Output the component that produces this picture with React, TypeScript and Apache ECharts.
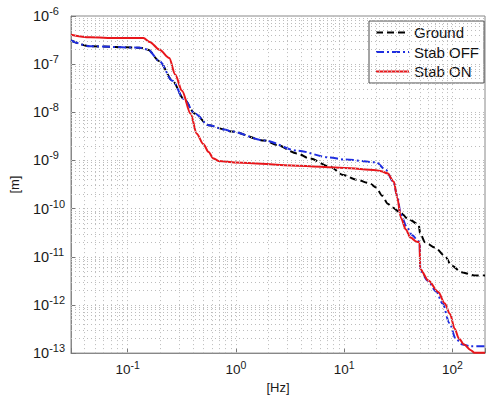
import React, { useEffect, useRef } from "react";
import * as echarts from "echarts";

// Frequencies [Hz] and displacement [m]
const groundF = [0.03, 0.045, 0.13, 0.154, 0.197, 0.26, 0.33, 0.42, 0.56, 0.79, 0.9, 1.84, 2.4, 3.67, 4.8, 7.4, 9.8, 12.9, 17.1, 19.7, 22.5, 25.3, 28, 32.5, 39.5, 48.7, 50.5, 56, 69, 85, 98, 121, 159, 200];
const groundM = [3.1e-7, 2.35e-7, 2.2e-7, 2.0e-7, 1.15e-7, 4.5e-8, 1.9e-8, 9.3e-9, 5.4e-9, 4.4e-9, 4.0e-9, 2.6e-9, 2.1e-9, 1.4e-9, 1.1e-9, 7.4e-10, 5.0e-10, 4.0e-10, 3.4e-10, 2.75e-10, 1.85e-10, 1.26e-10, 1.05e-10, 8.5e-11, 6e-11, 4.7e-11, 3.0e-11, 2.0e-11, 1.55e-11, 1.05e-11, 6.6e-12, 4.8e-12, 4.1e-12, 4.1e-12];

const offF = [0.03, 0.045, 0.13, 0.154, 0.197, 0.26, 0.33, 0.42, 0.56, 0.79, 0.9, 1.84, 3.67, 7.4, 10, 19.7, 24.2, 28.5, 31, 33.3, 38, 42.5, 48.7, 49.8, 50.5, 59, 71, 81, 94, 107, 124, 148, 200];
const offM = [3.1e-7, 2.35e-7, 2.2e-7, 2.0e-7, 1.15e-7, 4.5e-8, 1.9e-8, 9.3e-9, 5.4e-9, 4.4e-9, 4.0e-9, 2.6e-9, 1.6e-9, 1.15e-9, 1.05e-9, 9.2e-10, 6.4e-10, 3.6e-10, 1.8e-10, 7.6e-11, 4.1e-11, 2.8e-11, 2.1e-11, 2.05e-11, 5.2e-12, 3.2e-12, 1.9e-12, 1.07e-12, 4.2e-13, 2.0e-13, 1.5e-13, 1.38e-13, 1.38e-13];

const onF = [0.03, 0.045, 0.08, 0.14, 0.16, 0.197, 0.2425, 0.275, 0.318, 0.382, 0.435, 0.5, 0.56, 0.62, 0.69, 1.0, 3.68, 10, 19.7, 22, 25.1, 28.8, 31, 33.4, 37.1, 41, 47, 49.8, 50.3, 60, 74, 85, 95, 105, 115, 128, 148, 160, 200];
const onM = [4.1e-7, 3.6e-7, 3.5e-7, 3.5e-7, 2.9e-7, 2.0e-7, 1.35e-7, 6.1e-8, 2.8e-8, 9.3e-9, 3.6e-9, 2.2e-9, 1.5e-9, 1.1e-9, 9.8e-10, 9.1e-10, 7.8e-10, 7.0e-10, 6.3e-10, 6.0e-10, 5.4e-10, 3.6e-10, 1.66e-10, 6.5e-11, 3.7e-11, 2.5e-11, 2.04e-11, 2.0e-11, 5.6e-12, 3.2e-12, 1.86e-12, 1.07e-12, 6.5e-13, 3.2e-13, 2.0e-13, 1.5e-13, 1.15e-13, 1.02e-13, 1.02e-13];

const seriesNames = ["Ground", "Stab OFF", "Stab ON"];
const xRange = [0.03, 200];
const yRange = [1e-13, 1e-6];
const xDecades = [-2, -1, 0, 1, 2];
const yDecades = [-13, -12, -11, -10, -9, -8, -7];
const multiples = [1, 2, 3, 4, 5, 6, 7, 8, 9];

const zip = (a: number[], b: number[]) => a.map((v, i) => [v, b[i]]);

const gridValues = (decades: number[], lo: number, hi: number) => {
  const out: number[] = [];
  decades.forEach((d) =>
    multiples.forEach((k) => {
      const v = k * Math.pow(10, d);
      if (v > lo * 1.0001 && v < hi * 0.9999) out.push(v);
    })
  );
  return out;
};

const powLabel = (v: number) => {
  const e = Math.log10(v);
  const r = Math.round(e);
  if (Math.abs(e - r) > 1e-6) return "";
  return `{b|10}{s|${r}}`;
};

const FONT = "'Liberation Sans', Arial, Helvetica, sans-serif";
const TXT = "#1a1a1a";

export default function App() {
  const ref = useRef<HTMLDivElement>(null);
  useEffect(() => {
    if (!ref.current) return;
    const chart = echarts.init(ref.current, undefined, { renderer: "svg" });
    const xs = gridValues(xDecades, xRange[0], xRange[1]);
    const ys = gridValues(yDecades, yRange[0], yRange[1]);
    const richY = {
      b: { fontSize: 14.5, fontFamily: FONT, color: TXT, lineHeight: 21, verticalAlign: "middle" },
      s: { fontSize: 11, fontFamily: FONT, color: TXT, lineHeight: 11, verticalAlign: "top" },
    };
    const richX = {
      b: { fontSize: 13.5, fontFamily: FONT, color: TXT, lineHeight: 20, verticalAlign: "middle" },
      s: { fontSize: 10.5, fontFamily: FONT, color: TXT, lineHeight: 10, verticalAlign: "top" },
    };
    const gridLines = [
      ...xs.map((v) => [{ coord: [v, yRange[0]] }, { coord: [v, yRange[1]] }]),
      ...ys.map((v) => [{ coord: [xRange[0], v] }, { coord: [xRange[1], v] }]),
    ];
    const smoothOpts = { smooth: 0.3, smoothMonotone: "x" };
    chart.setOption({
      animation: false,
      backgroundColor: "#fff",
      grid: {
        left: 70,
        top: 16,
        width: 421,
        height: 341,
        show: true,
        borderColor: "#888",
        borderWidth: 1,
        backgroundColor: "#fff",
      },
      legend: {
        data: seriesNames,
        orient: "vertical",
        left: 369,
        top: 21,
        padding: [4, 5, 4, 6],
        itemWidth: 33,
        itemHeight: 14,
        itemGap: 4.5,
        itemStyle: { opacity: 0 },
        backgroundColor: "#fff",
        borderColor: "#4a4a4a",
        borderWidth: 1,
        borderRadius: 0,
        textStyle: { fontSize: 15, fontFamily: FONT, color: "#111" },
      },
      xAxis: {
        type: "log",
        logBase: 10,
        min: xRange[0],
        max: xRange[1],
        name: "[Hz]",
        nameLocation: "middle",
        nameGap: 27,
        nameTextStyle: { fontSize: 13, fontFamily: FONT, color: TXT },
        axisLine: { show: true, lineStyle: { color: "#888", width: 1 } },
        axisTick: { show: true, inside: true, length: 5, lineStyle: { color: "#777" } },
        splitLine: { show: false },
        axisLabel: { formatter: powLabel, rich: richX, margin: 6 },
      },
      yAxis: {
        type: "log",
        logBase: 10,
        min: yRange[0],
        max: yRange[1],
        name: "[m]",
        nameLocation: "middle",
        nameGap: 50,
        nameTextStyle: { fontSize: 13, fontFamily: FONT, color: TXT },
        axisLine: { show: true, lineStyle: { color: "#888", width: 1 } },
        axisTick: { show: true, inside: true, length: 5, lineStyle: { color: "#777" } },
        splitLine: { show: false },
        axisLabel: { formatter: powLabel, rich: richY, margin: 38, align: "left" },
      },
      series: [
        {
          name: "grid",
          type: "line",
          data: [[1, 1e-10]],
          symbol: "none",
          lineStyle: { opacity: 0 },
          silent: true,
          z: 1,
          markLine: {
            silent: true,
            symbol: ["none", "none"],
            label: { show: false },
            lineStyle: { type: [1, 3], color: "#bcbcbc", width: 1 },
            emphasis: { disabled: true },
            data: gridLines,
          },
        },
        {
          name: "Ground",
          type: "line",
          data: zip(groundF, groundM),
          symbol: "none",
          z: 2,
          ...smoothOpts,
          lineStyle: { color: "#000", width: 2, type: [7, 4] },
          itemStyle: { color: "#000" },
        },
        {
          name: "Stab OFF",
          type: "line",
          data: zip(offF, offM),
          symbol: "none",
          z: 3,
          ...smoothOpts,
          lineStyle: { color: "#1f2ee0", width: 2, type: [8, 3, 2, 3] },
          itemStyle: { color: "#1f2ee0" },
        },
        {
          name: "Stab ON",
          type: "line",
          data: zip(onF, onM),
          symbol: "none",
          z: 3,
          ...smoothOpts,
          lineStyle: { color: "#e8161b", width: 2 },
          itemStyle: { color: "#e8161b" },
        },
      ],
    });
    return () => chart.dispose();
  }, []);
  return (
    <div
      ref={ref}
      style={{ position: "fixed", left: 0, top: 0, width: 488, height: 399, background: "#fff" }}
    />
  );
}
